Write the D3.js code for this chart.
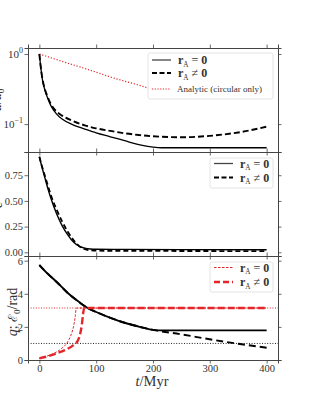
<!DOCTYPE html>
<html>
<head>
<meta charset="utf-8">
<script src="https://cdn.jsdelivr.net/npm/d3@7"></script>
<style>
  body { margin: 0; background: #fff; }
  svg text { font-family: "Liberation Serif", "DejaVu Serif", serif; fill: #333; }
</style>
</head>
<body>
<div id="page"></div>
<script>
// panel 1: semi-major axis (log)
var aT       = [0, 2, 5, 10, 15, 20, 30, 40, 60, 80, 100, 125, 150, 175, 200, 215, 400];
var aSolid   = [1.0, 0.7, 0.45, 0.3, 0.23, 0.185, 0.14, 0.118, 0.097, 0.085, 0.075, 0.066, 0.058, 0.051, 0.047, 0.046, 0.046];
var aDashT   = [0, 2, 5, 10, 15, 20, 30, 40, 60, 80, 100, 125, 150, 175, 200, 250, 300, 350, 400];
var aDashed  = [1.0, 0.7, 0.46, 0.31, 0.24, 0.195, 0.152, 0.132, 0.11, 0.096, 0.087, 0.08, 0.074, 0.07, 0.067, 0.065, 0.068, 0.076, 0.092];
var anT      = [0, 25, 50, 75, 100, 125, 150, 175, 200];
var analytic = [1.0, 0.86, 0.74, 0.64, 0.55, 0.47, 0.41, 0.36, 0.31];

// panel 2: eccentricity
var eT       = [0, 5, 10, 15, 20, 30, 40, 50, 60, 70, 80, 90, 100, 150, 400];
var eSolid   = [0.93, 0.82, 0.72, 0.62, 0.53, 0.38, 0.26, 0.17, 0.1, 0.06, 0.04, 0.032, 0.03, 0.028, 0.025];
var eDashed  = [0.93, 0.83, 0.74, 0.65, 0.56, 0.42, 0.3, 0.2, 0.12, 0.06, 0.03, 0.02, 0.016, 0.014, 0.012];

// panel 3: q and E0
var qT       = [0, 15, 30, 50, 70, 85, 100, 125, 150, 175, 200, 210, 400];
var qSolid   = [5.74, 5.2, 4.73, 4.05, 3.5, 3.14, 2.9, 2.55, 2.25, 2.02, 1.82, 1.79, 1.79];
var qDashT   = [0, 15, 30, 50, 70, 85, 100, 125, 150, 175, 200, 250, 300, 350, 400];
var qDashed  = [5.74, 5.2, 4.73, 4.05, 3.5, 3.14, 2.9, 2.55, 2.25, 2.02, 1.82, 1.55, 1.25, 0.98, 0.74];
var e0ThinT  = [0, 10, 20, 30, 40, 50, 55, 60, 63, 65, 400];
var e0Thin   = [0.1, 0.2, 0.32, 0.48, 0.72, 1.1, 1.45, 2.0, 2.6, 3.14, 3.14];
var e0ThickT = [0, 10, 20, 30, 40, 50, 60, 68, 72, 75, 77, 79, 400];
var e0Thick  = [0.1, 0.18, 0.28, 0.4, 0.52, 0.68, 0.9, 1.2, 1.6, 2.2, 2.8, 3.14, 3.14];
var refLines = [Math.PI, 1];

var xTicks  = [0, 100, 200, 300, 400];
var aTicks  = [1, 0.1];
var eTicks  = [0, 0.25, 0.5, 0.75];
var qTicks  = [0, 2, 4, 6];

var W = 311, H = 405,
    left = 28, right = 278,
    red = "#e3262a", axisCol = "#444";

var svg = d3.select("#page").append("svg")
    .attr("width", W).attr("height", H);

var x = d3.scaleLinear().domain([-20, 420]).range([left, right]);

var panels = [
  {top: 48, bottom: 152, y: d3.scaleLog().domain([0.04, Math.pow(10, 0.0857)])},
  {top: 152, bottom: 256, y: d3.scaleLinear().domain([-0.036, 0.976])},
  {top: 256, bottom: 360, y: d3.scaleLinear().domain([0, 2 * Math.PI])}
];
panels.forEach(function(p, i) {
  p.y.range([p.bottom, p.top]);
  p.g = svg.append("g");
  svg.append("clipPath").attr("id", "clip" + i).append("rect")
      .attr("x", left).attr("y", p.top).attr("width", right - left).attr("height", p.bottom - p.top);
  p.plot = p.g.append("g").attr("clip-path", "url(#clip" + i + ")");
});

var drawLine = function(p, ts, vs, opts) {
  var line = d3.line()
      .x(function(d) { return x(d[0]); })
      .y(function(d) { return p.y(d[1]); })
      .curve(d3.curveMonotoneX);
  p.plot.append("path")
      .datum(d3.zip(ts, vs))
      .attr("d", line)
      .attr("fill", "none")
      .attr("stroke", opts.color)
      .attr("stroke-width", opts.width)
      .attr("stroke-dasharray", opts.dash || null);
};

var styleAxis = function(g) {
  g.select(".domain").attr("stroke", axisCol).attr("stroke-width", 1);
  g.selectAll(".tick line").attr("stroke", axisCol).attr("stroke-width", 0.8);
  g.selectAll(".tick text").attr("font-size", 10.5).attr("fill", "#333")
      .style("font-family", '"Liberation Serif", serif');
};

// axes: ticks on all four sides, outward
var drawAxes = function(p, ticks, yFmt, showX) {
  p.g.append("g").attr("transform", "translate(" + left + ",0)")
      .call(d3.axisLeft(p.y).tickValues(ticks).tickSize(3.5).tickPadding(1.5).tickFormat(yFmt))
      .call(styleAxis);
  p.g.append("g").attr("transform", "translate(" + right + ",0)")
      .call(d3.axisRight(p.y).tickValues(ticks).tickSize(3.5).tickFormat(""))
      .call(styleAxis);
  p.g.append("g").attr("transform", "translate(0," + p.top + ")")
      .call(d3.axisTop(x).tickValues(xTicks).tickSize(3.5).tickFormat(""))
      .call(styleAxis);
  p.g.append("g").attr("transform", "translate(0," + p.bottom + ")")
      .call(d3.axisBottom(x).tickValues(xTicks).tickSize(3.5).tickPadding(1).tickFormat(showX ? d3.format("d") : ""))
      .call(styleAxis);
};

// panel 1
var p1 = panels[0];
drawLine(p1, anT, analytic, {color: red, width: 1.2, dash: "1.2,1.8"});
drawLine(p1, aT, aSolid, {color: "#000", width: 1.3});
drawLine(p1, aDashT, aDashed, {color: "#000", width: 1.9, dash: "6,3"});
drawAxes(p1, aTicks, function() { return ""; }, false);
aTicks.forEach(function(v) {
  var t = p1.g.append("text").attr("x", left - 5).attr("y", p1.y(v) + 4)
      .attr("text-anchor", "end").attr("font-size", 11);
  t.append("tspan").text("10");
  t.append("tspan").attr("dy", -5).attr("font-size", 8).text(v == 1 ? "0" : "\u22121");
});

// panel 2
var p2 = panels[1];
drawLine(p2, eT, eSolid, {color: "#000", width: 1.4});
drawLine(p2, eT, eDashed, {color: "#000", width: 1.8, dash: "5,3"});
drawAxes(p2, eTicks, d3.format(".2f"), false);

// panel 3
var p3 = panels[2];
p3.plot.selectAll("line.ref").data(refLines).enter().append("line")
    .attr("x1", left).attr("x2", right)
    .attr("y1", function(d) { return p3.y(d); }).attr("y2", function(d) { return p3.y(d); })
    .attr("stroke", function(d, i) { return i == 0 ? red : "#222"; })
    .attr("stroke-width", 1).attr("stroke-dasharray", "1,1.6");
drawLine(p3, qT, qSolid, {color: "#000", width: 1.9});
drawLine(p3, qDashT, qDashed, {color: "#000", width: 1.9, dash: "7,4"});
drawLine(p3, e0ThinT, e0Thin, {color: red, width: 1, dash: "2.5,1.5"});
drawLine(p3, e0ThickT, e0Thick, {color: red, width: 2.4, dash: "7,3"});
drawAxes(p3, qTicks, d3.format("d"), true);

// legends
var rLabel = function(g, xx, yy, eq, size) {
  var t = g.append("text").attr("x", xx).attr("y", yy).attr("font-size", size).attr("fill", "#222");
  t.append("tspan").attr("font-weight", "bold").text("r");
  t.append("tspan").attr("dy", 2.5).attr("font-size", size * 0.6).text("A");
  t.append("tspan").attr("dy", -2.5).text(" " + eq + " ");
  t.append("tspan").attr("font-weight", "bold").text("0");
};

var legend = function(bx, by, bw, bh, rows, items) {
  var g = svg.append("g");
  g.append("rect").attr("x", bx).attr("y", by).attr("width", bw).attr("height", bh).attr("rx", 2)
      .attr("fill", "#fff").attr("fill-opacity", 0.85).attr("stroke", "#ddd").attr("stroke-width", 0.8);
  items.forEach(function(it, i) {
    var yy = rows[i];
    g.append("line").attr("x1", bx + 4).attr("x2", bx + 23).attr("y1", yy).attr("y2", yy)
        .attr("stroke", it.color).attr("stroke-width", it.width).attr("stroke-dasharray", it.dash || null);
    if (it.text) {
      g.append("text").attr("x", bx + 29).attr("y", yy + 3).attr("font-size", 9).attr("fill", "#444").text(it.text);
    } else {
      rLabel(g, bx + 30, yy + 4, it.eq, 12);
    }
  });
};

legend(148, 53, 125, 46, [60, 73, 89], [
  {color: "#444", width: 1.3, eq: "="},
  {color: "#000", width: 1.9, dash: "5,2.5", eq: "\u2260"},
  {color: red, width: 1.1, dash: "1.2,1.5", text: "Analytic (circular only)"}
]);
legend(210, 158, 63, 30, [163.5, 177.5], [
  {color: "#444", width: 1.3, eq: "="},
  {color: "#000", width: 1.9, dash: "5,2.5", eq: "\u2260"}
]);
legend(210, 262, 63, 30, [267.5, 282], [
  {color: red, width: 1, dash: "2.5,1.5", eq: "="},
  {color: red, width: 2.4, dash: "6,3", eq: "\u2260"}
]);

// axis titles
var xl = svg.append("text").attr("x", 152).attr("y", 386).attr("text-anchor", "middle").attr("font-size", 14.5);
xl.append("tspan").attr("font-style", "italic").text("t");
xl.append("tspan").text("/Myr");

var yl3 = svg.append("text").attr("transform", "translate(17,312) rotate(-90)")
    .attr("text-anchor", "middle").attr("font-size", 14);
yl3.append("tspan").attr("font-style", "italic").text("q");
yl3.append("tspan").text("; ");
yl3.append("tspan").style("font-family", '"DejaVu Serif", serif').attr("font-size", 12.5).text("\u2130");
yl3.append("tspan").attr("dy", 3).attr("font-size", 9).text("0");
yl3.append("tspan").attr("dy", -3).text("/rad");

var yl2 = svg.append("text").attr("transform", "translate(2,205) rotate(-90)")
    .attr("text-anchor", "middle").attr("font-size", 14);
yl2.append("tspan").attr("font-style", "italic").text("e");

var yl1 = svg.append("text").attr("transform", "translate(1,100) rotate(-90)")
    .attr("text-anchor", "middle").attr("font-size", 14);
yl1.append("tspan").attr("font-style", "italic").text("a");
yl1.append("tspan").text("/");
yl1.append("tspan").attr("font-style", "italic").text("a");
yl1.append("tspan").attr("dy", 3).attr("font-size", 9).text("0");
</script>
</body>
</html>
